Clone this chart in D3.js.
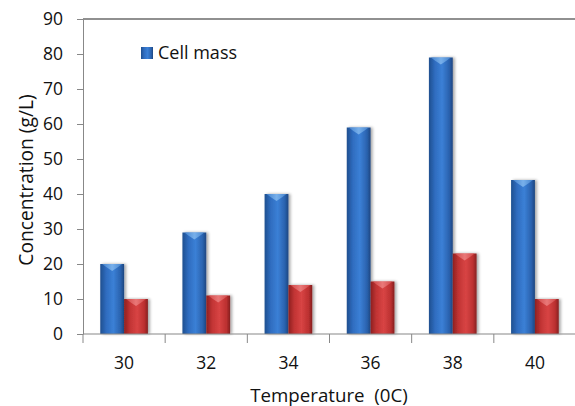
<!DOCTYPE html>
<html>
<head>
<meta charset="utf-8">
<script src="https://cdn.jsdelivr.net/npm/d3@7"></script>
<style>
  html, body { margin: 0; padding: 0; background: #fff; }
  svg { display: block; }
  text { font-family: "Open Sans", Lato, sans-serif; fill: #111; white-space: pre; }
</style>
</head>
<body>
<svg id="chart" width="575" height="406"></svg>
<script>
const categories = ["30", "32", "34", "36", "38", "40"];
const cellMass = [20, 29, 40, 59, 79, 44];
const series2 = [10, 11, 14, 15, 23, 10];
const yTicks = [0, 10, 20, 30, 40, 50, 60, 70, 80, 90];
const legendLabel = "Cell mass";
const xTitle = "Temperature  (0C)";
const yTitle = "Concentration (g/L)";

const FS = 17.5;
const svg = d3.select("#chart");
const m = { left: 83, right: 576, top: 19, bottom: 334 };

const x = d3.scaleBand().domain(categories).range([m.left, m.right]).padding(0);
const y = d3.scaleLinear().domain([0, 90]).range([m.bottom, m.top]);
const bw = x.bandwidth() * 0.29;

const defs = svg.append("defs");
function grad(id, stops) {
  const g = defs.append("linearGradient").attr("id", id)
    .attr("x1", "0%").attr("x2", "100%").attr("y1", "0%").attr("y2", "0%");
  stops.forEach(s => g.append("stop").attr("offset", s[0]).attr("stop-color", s[1]));
}
grad("gBlue", [["0%", "#1f4f8f"], ["25%", "#2f6cbf"], ["55%", "#3b80d6"], ["85%", "#2a62ae"], ["100%", "#1d4680"]]);
grad("gRed", [["0%", "#8e2020"], ["25%", "#c23434"], ["55%", "#d84444"], ["85%", "#bb3030"], ["100%", "#852020"]]);
grad("gBlueTop", [["0%", "#4f8fd8"], ["50%", "#8cc0f2"], ["100%", "#4f8fd8"]]);
grad("gRedTop", [["0%", "#d85050"], ["50%", "#f08a8a"], ["100%", "#d85050"]]);

const filt = defs.append("filter").attr("id", "shadow").attr("x", "-20%").attr("y", "-5%").attr("width", "150%").attr("height", "110%");
filt.append("feGaussianBlur").attr("in", "SourceAlpha").attr("stdDeviation", 1.5);
filt.append("feOffset").attr("dx", 1.5).attr("dy", 0).attr("result", "ob");
filt.append("feComponentTransfer").append("feFuncA").attr("type", "linear").attr("slope", 0.35);
const fm = filt.append("feMerge");
fm.append("feMergeNode");
fm.append("feMergeNode").attr("in", "SourceGraphic");

// Top frame line
svg.append("line").attr("x1", m.left).attr("x2", 575).attr("y1", y(90)).attr("y2", y(90))
  .attr("stroke", "#222").attr("stroke-width", 1.2);

// Bars
const data = categories.map((c, i) => ({ c, a: cellMass[i], b: series2[i] }));
const groups = svg.append("g").selectAll("g").data(data).join("g");

function drawBar(sel, xf, vf, fill, topFill) {
  sel.append("rect")
    .attr("x", d => xf(d)).attr("width", bw)
    .attr("y", d => y(vf(d))).attr("height", d => y(0) - y(vf(d)))
    .attr("fill", fill).attr("filter", "url(#shadow)");
  sel.append("path")
    .attr("d", d => {
      const x0 = xf(d), yt = y(vf(d));
      return `M${x0 + 2},${yt}L${x0 + bw - 2},${yt}L${x0 + bw * 0.75},${yt + 3}L${x0 + bw / 2},${yt + 7}L${x0 + bw * 0.25},${yt + 3}Z`;
    })
    .attr("fill", topFill).attr("opacity", 0.75);
}
const center = d => x(d.c) + x.bandwidth() / 2;
drawBar(groups, d => center(d) - bw, d => d.a, "url(#gBlue)", "url(#gBlueTop)");
drawBar(groups, d => center(d), d => d.b, "url(#gRed)", "url(#gRedTop)");

// Y axis
const yAxis = svg.append("g").attr("transform", `translate(${m.left},0)`)
  .call(d3.axisLeft(y).tickValues(yTicks).tickSize(6).tickSizeOuter(0).tickPadding(14));
yAxis.select(".domain").attr("stroke", "#888");
yAxis.selectAll(".tick line").attr("stroke", "#888");
yAxis.selectAll(".tick text").attr("font-size", FS).attr("font-family", "'Open Sans', sans-serif").attr("fill", "#111");

// X axis
svg.append("line").attr("x1", m.left).attr("x2", 575).attr("y1", y(0)).attr("y2", y(0))
  .attr("stroke", "#888").attr("stroke-width", 1.2);
svg.append("g").selectAll("line").data(categories).join("line")
  .attr("x1", d => x(d)).attr("x2", d => x(d))
  .attr("y1", y(0)).attr("y2", y(0) + 9).attr("stroke", "#888");
svg.append("g").selectAll("text").data(categories).join("text")
  .attr("x", d => x(d) + x.bandwidth() / 2).attr("y", 369)
  .attr("text-anchor", "middle").attr("font-size", FS).text(d => d);

// Axis titles
svg.append("text").attr("x", 329).attr("y", 402).attr("text-anchor", "middle")
  .attr("font-size", 18.7).text(xTitle);
svg.append("text").attr("transform", `translate(33,180) rotate(-90)`)
  .attr("text-anchor", "middle").attr("font-size", 19.2).text(yTitle);

// Legend
svg.append("rect").attr("x", 141).attr("y", 47).attr("width", 12).attr("height", 12)
  .attr("fill", "url(#gBlue)");
svg.append("text").attr("x", 158).attr("y", 59).attr("font-size", 18).text(legendLabel);
</script>
</body>
</html>
